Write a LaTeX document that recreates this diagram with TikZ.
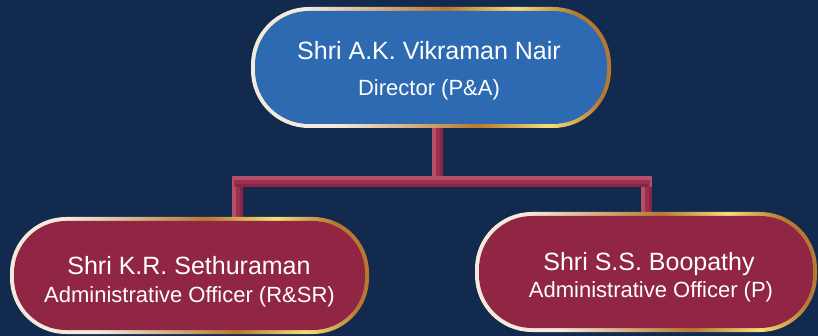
\documentclass[tikz,border=0pt]{standalone}
\usepackage{fontspec}
\setmainfont{Liberation Sans}

\definecolor{pagebg}{HTML}{132A4F}
\definecolor{chiefblue}{HTML}{2E6AB2}
\definecolor{officermaroon}{HTML}{912644}
\definecolor{barmid}{HTML}{9A2F4E}
\definecolor{barlight}{HTML}{B44F6B}
\definecolor{bardark}{HTML}{8A2345}
\definecolor{ringcream}{HTML}{F4EADC}
\definecolor{ringtan}{HTML}{D9B58C}
\definecolor{ringbronze}{HTML}{B77932}
\definecolor{ringyellow}{HTML}{F4DE78}

% gold frame colour run, left to right across the box
\pgfdeclarehorizontalshading{goldring}{100bp}{%
  color(0bp)=(ringcream); color(25bp)=(ringcream); color(33bp)=(ringcream);
  color(43bp)=(ringtan); color(55bp)=(ringbronze); color(66bp)=(ringyellow);
  color(75bp)=(ringbronze); color(100bp)=(ringbronze)}

\pgfdeclarelayer{background}
\pgfdeclarelayer{links}
\pgfsetlayers{background,links,main}

\tikzset{
  orgbox/.style 2 args={shape=rectangle, inner sep=0pt, outer sep=0pt,
    rounded corners=#2pt, shade, shading=goldring, shading angle=15,
    path picture={\fill[#1, rounded corners=(#2-4)*1pt]
      ([xshift=4pt,yshift=-4pt]path picture bounding box.north west) rectangle
      ([xshift=-4pt,yshift=4pt]path picture bounding box.south east);}},
  nameline/.style={anchor=base, inner sep=0pt, text=white,
    font=\fontsize{25}{30}\selectfont},
  postline/.style={anchor=base, inner sep=0pt, text=white,
    font=\fontsize{22}{26}\selectfont},
  % bars: light on one side, darker toward the other
  vbar/.style={draw=barlight, line width=11pt,
    postaction={draw=barmid, line width=7pt, transform canvas={xshift=2pt}},
    postaction={draw=bardark, line width=3pt, transform canvas={xshift=4pt}}},
  hbar/.style={draw=barlight, line width=11pt,
    postaction={draw=barmid, line width=7pt, transform canvas={yshift=-2pt}},
    postaction={draw=bardark, line width=3pt, transform canvas={yshift=-4pt}}},
}

\begin{document}
\begin{tikzpicture}[x=1pt,y=-1pt]
\begin{pgfonlayer}{background}
  \fill[pagebg] (0,0) rectangle (818,336);
\end{pgfonlayer}
\useasboundingbox (0,0) rectangle (818,336);

% boxes
\node[orgbox={chiefblue}{58}, minimum width=360pt, minimum height=121pt] (top) at (431,67.5) {};
\node[orgbox={officermaroon}{56}, minimum width=359pt, minimum height=117pt] (left) at (189.5,275.5) {};
\node[orgbox={officermaroon}{57}, minimum width=342pt, minimum height=120pt] (right) at (646,272) {};

% texts
\node[nameline] (topname) at (429,60) {Shri A.K. Vikraman Nair};
\node[postline] (toppost) at (429,96) {Director (P\&A)};
\node[nameline] (leftname) at (189,275) {Shri K.R. Sethuraman};
\node[postline] (leftpost) at (189.5,302) {Administrative Officer (R\&SR)};
\node[nameline] (rightname) at (649,270) {Shri S.S. Boopathy};
\node[postline] (rightpost) at (651,297) {Administrative Officer (P)};

% connectors
\coordinate (hub) at (437.5,182);
\coordinate (lhub) at (237,182);
\coordinate (rhub) at (646,182);
\begin{pgfonlayer}{links}
  \draw[vbar] (top.south -| hub) -- (hub);
  \draw[vbar] (lhub) -- ([yshift=-4pt]lhub |- left.north);
  \draw[vbar] (rhub) -- ([yshift=-4pt]right.north);
  \draw[hbar, line cap=rect] (lhub) -- (rhub);
\end{pgfonlayer}
\end{tikzpicture}
\end{document}
